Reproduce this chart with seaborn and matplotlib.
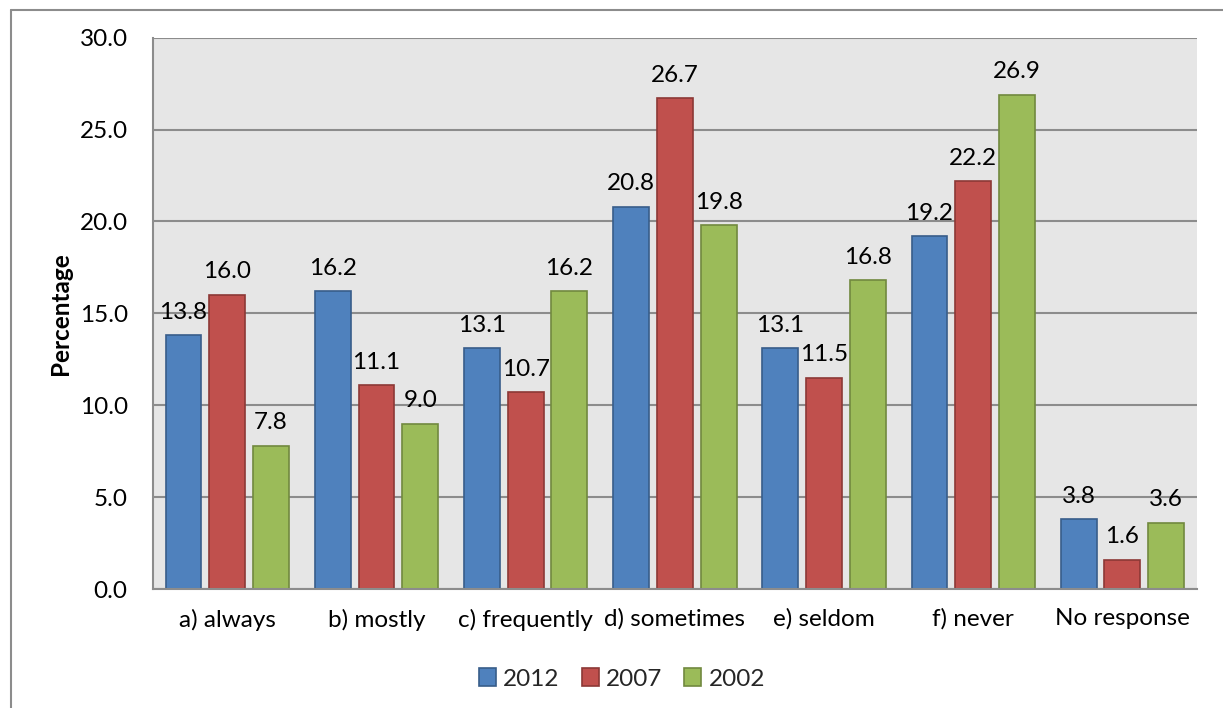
import numpy as np
import pandas as pd
import matplotlib
matplotlib.use("Agg")
import matplotlib.pyplot as plt
import seaborn as sns
from matplotlib.lines import Line2D
from matplotlib.patches import Patch

categories = ["a) always", "b) mostly", "c) frequently", "d) sometimes",
              "e) seldom", "f) never", "No response"]
series_names = ["2012", "2007", "2002"]
values_2012 = [13.8, 16.2, 13.1, 20.8, 13.1, 19.2, 3.8]
values_2007 = [16.0, 11.1, 10.7, 26.7, 11.5, 22.2, 1.6]
values_2002 = [7.8, 9.0, 16.2, 19.8, 16.8, 26.9, 3.6]
y_ticks = [0, 5, 10, 15, 20, 25, 30]
y_label = "Percentage"

fill_colors = ["#4F81BD", "#C0504D", "#9BBB59"]
edge_colors = ["#385D8A", "#8C3836", "#71893F"]

df = pd.DataFrame({
    "category": categories * 3,
    "year": [series_names[0]] * 7 + [series_names[1]] * 7 + [series_names[2]] * 7,
    "value": values_2012 + values_2007 + values_2002,
})

sns.set_theme(style="white")
plt.rcParams["font.family"] = ["Lato", "DejaVu Sans"]
fs = 17.5

fig = plt.figure(figsize=(12.23, 7.08), dpi=100)
ax = fig.add_axes([152.7 / 1223, 1 - 589 / 708, (1197 - 152.7) / 1223, (589 - 37.7) / 708])
ax.set_facecolor("#E6E6E6")

sns.barplot(data=df, x="category", y="value", hue="year",
            order=categories, hue_order=series_names,
            palette=fill_colors, saturation=1, width=0.88, gap=0.18,
            ax=ax, legend=False, zorder=3)

for cont, ec in zip(ax.containers, edge_colors):
    for p in cont:
        p.set_edgecolor(ec)
        p.set_linewidth(1.2)
    ax.bar_label(cont, fmt="%.1f", padding=9, fontsize=fs, color="black")

ax.set_xlim(-0.5, 6.5)
ax.set_ylim(0, 30)
ax.set_yticks(y_ticks)
ax.set_yticklabels([f"{t:.1f}" for t in y_ticks], fontsize=fs)
ax.tick_params(axis="x", labelsize=fs, length=0, pad=14, colors="black")
ax.tick_params(axis="y", length=0, pad=18, colors="black")
ax.set_xlabel("")
ax.set_ylabel(y_label, fontsize=fs, fontweight="bold", color="black")
ax.yaxis.set_label_coords(-0.077, 0.5)

ax.grid(axis="y", color="#8C8C8C", linewidth=1.5, zorder=1)
ax.set_axisbelow(True)
for s in ["top", "right"]:
    ax.spines[s].set_visible(False)
for s in ["left", "bottom"]:
    ax.spines[s].set_color("#8C8C8C")
    ax.spines[s].set_linewidth(1.5)
    ax.spines[s].set_zorder(4)

handles = [Patch(facecolor=fc, edgecolor=ec, linewidth=1.2) for fc, ec in zip(fill_colors, edge_colors)]
fig.legend(handles, series_names, loc="center", bbox_to_anchor=(622 / 1223, 1 - 679 / 708),
           ncol=3, frameon=False, fontsize=fs, handlelength=0.7, handleheight=0.7,
           handletextpad=0.3, columnspacing=0.9)

# outer chart border
fig.add_artist(Line2D([11 / 1223, 11 / 1223], [0, 1 - 10 / 708], transform=fig.transFigure,
                      color="#8C8C8C", linewidth=1.5))
fig.add_artist(Line2D([11 / 1223, 1], [1 - 10 / 708, 1 - 10 / 708], transform=fig.transFigure,
                      color="#8C8C8C", linewidth=1.5))

fig.savefig("out.png", dpi=100)
